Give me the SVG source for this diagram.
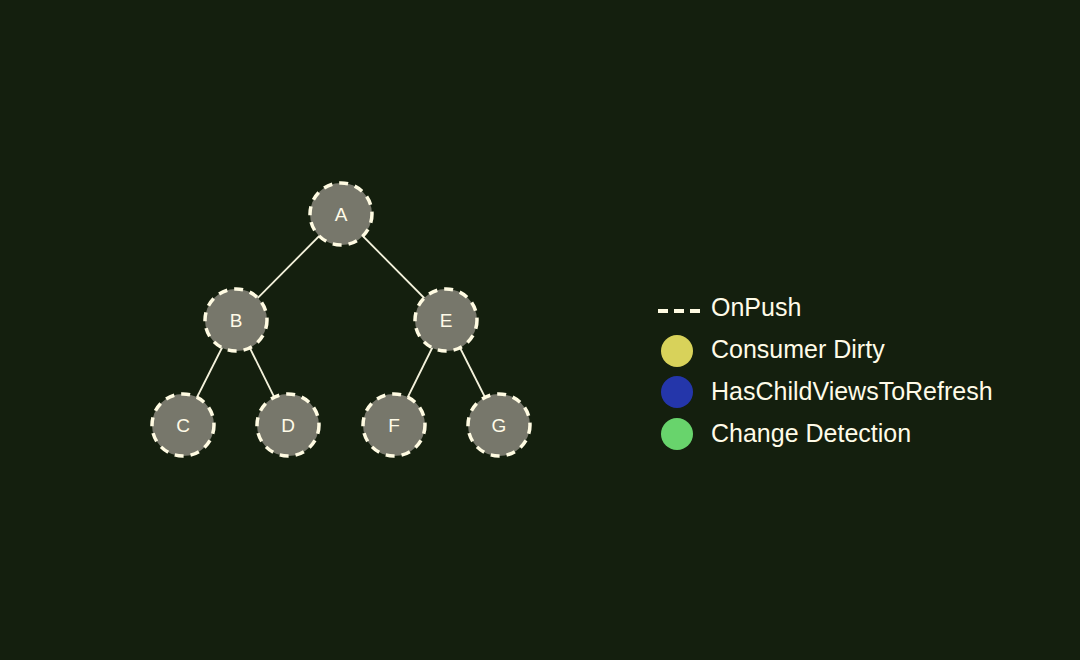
<svg xmlns="http://www.w3.org/2000/svg" width="1080" height="660" viewBox="0 0 1080 660">
<style>
.node circle{fill:#77776b;stroke:#fffbe2;stroke-width:3.5;stroke-dasharray:9 7}
.node text{font-family:"Liberation Sans",Arial,sans-serif;font-size:19px;fill:#fffbe8;text-anchor:middle;dominant-baseline:central}
.edge{stroke:#f4f2dc;stroke-width:1.8}
.lg{font-family:"Liberation Sans",Arial,sans-serif;font-size:25px;fill:#fffbe8}
</style>
<rect width="1080" height="660" fill="#141f0e"/>
<g id="connectors">
<line class="edge" x1="341" y1="214" x2="236" y2="320"/>
<line class="edge" x1="341" y1="214" x2="446" y2="320"/>
<line class="edge" x1="236" y1="320" x2="183" y2="425"/>
<line class="edge" x1="236" y1="320" x2="288" y2="425"/>
<line class="edge" x1="446" y1="320" x2="394" y2="425"/>
<line class="edge" x1="446" y1="320" x2="499" y2="425"/>
</g>
<g id="node-A" class="node"><circle cx="341" cy="214" r="31"/><text x="341" y="214">A</text></g>
<g id="node-B" class="node"><circle cx="236" cy="320" r="31"/><text x="236" y="320">B</text></g>
<g id="node-E" class="node"><circle cx="446" cy="320" r="31"/><text x="446" y="320">E</text></g>
<g id="node-C" class="node"><circle cx="183" cy="425" r="31"/><text x="183" y="425">C</text></g>
<g id="node-D" class="node"><circle cx="288" cy="425" r="31"/><text x="288" y="425">D</text></g>
<g id="node-F" class="node"><circle cx="394" cy="425" r="31"/><text x="394" y="425">F</text></g>
<g id="node-G" class="node"><circle cx="499" cy="425" r="31"/><text x="499" y="425">G</text></g>
<g id="legend">
<line x1="658" y1="311" x2="700" y2="311" stroke="#fffbe2" stroke-width="4" stroke-dasharray="10 6"/>
<text class="lg" x="711" y="316">OnPush</text>
<circle cx="677" cy="351" r="16" fill="#d8d25a"/>
<text class="lg" x="711" y="358">Consumer Dirty</text>
<circle cx="677" cy="392" r="16" fill="#2436aa"/>
<text class="lg" x="711" y="400">HasChildViewsToRefresh</text>
<circle cx="677" cy="434" r="16" fill="#68d46c"/>
<text class="lg" x="711" y="442">Change Detection</text>
</g>
</svg>
